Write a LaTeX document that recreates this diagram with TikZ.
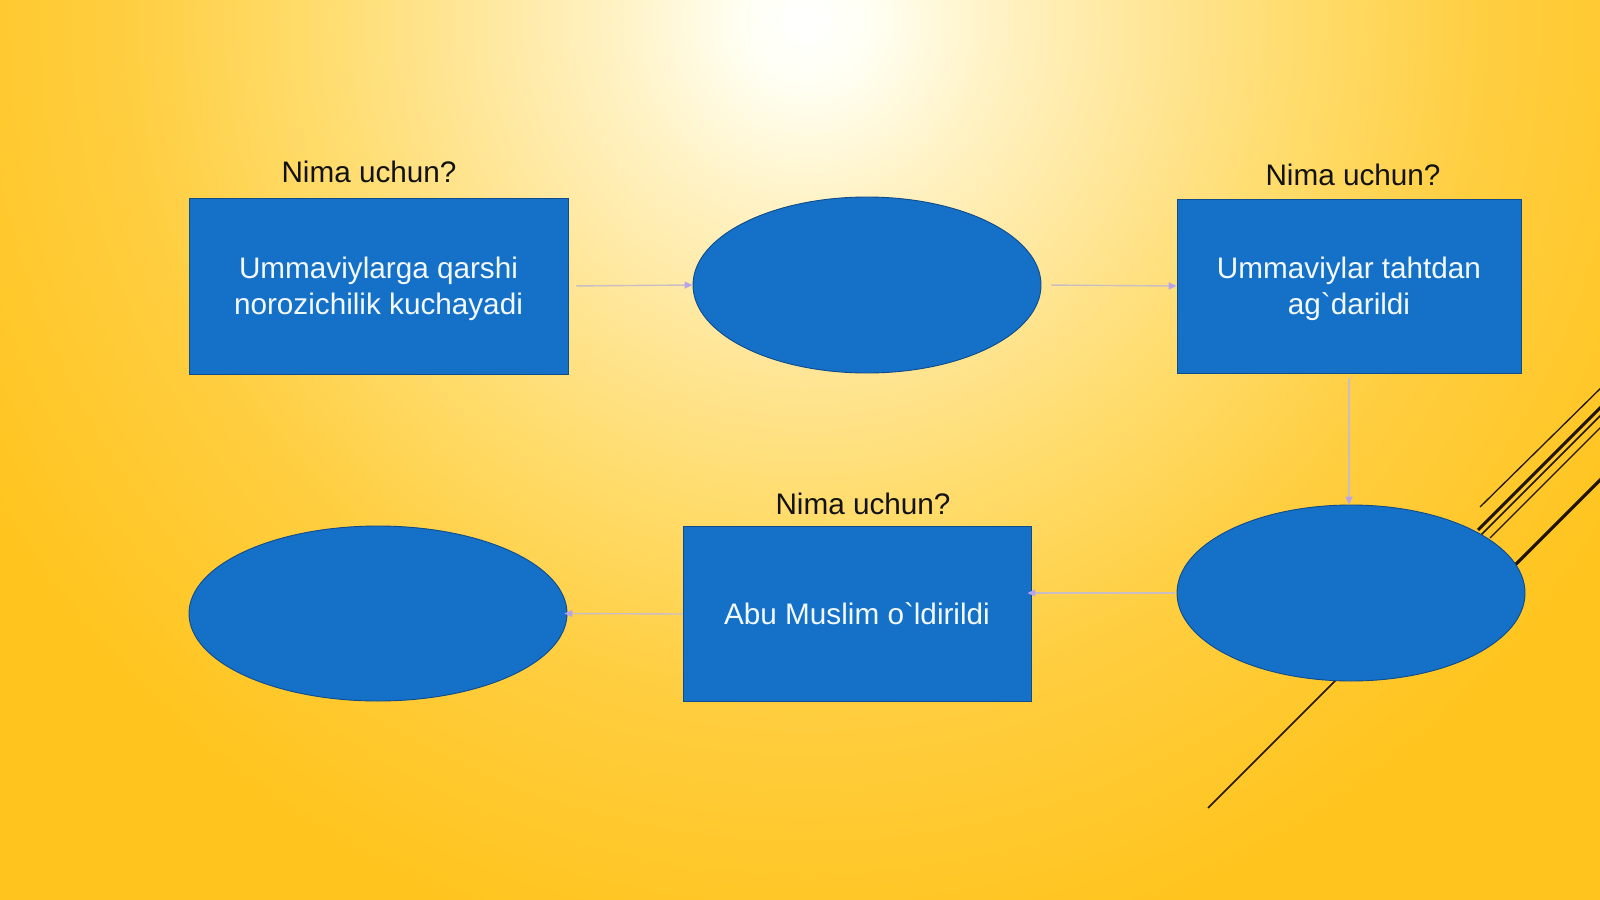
\documentclass[tikz,border=0pt]{standalone}
\usepackage{fontspec}
\setmainfont{Liberation Sans}[Ligatures=TeXOff]
\usetikzlibrary{shapes.geometric,arrows.meta}
\definecolor{bgA}{HTML}{FFFFF4}
\definecolor{bgB}{HTML}{FFF2C4}
\definecolor{bgC}{HTML}{FFE698}
\definecolor{bgD}{HTML}{FFDC6C}
\definecolor{bgE}{HTML}{FFCE40}
\definecolor{bgF}{HTML}{FFC41E}
\definecolor{boxblue}{HTML}{1570C8}
\definecolor{boxedge}{HTML}{0F4C8C}
\definecolor{boxtext}{HTML}{F2F9FF}
\definecolor{connc}{HTML}{C8BEC4}
\definecolor{tipc}{HTML}{B8A4E8}
\definecolor{decoc}{HTML}{1E1408}
\pgfdeclareradialshading{bgshade}{\pgfpoint{0bp}{0bp}}{color(0bp)=(white); color(1.07bp)=(bgA); color(3.39bp)=(bgB); color(6.11bp)=(bgC); color(8.82bp)=(bgD); color(12.21bp)=(bgE); color(16.96bp)=(bgF); color(50bp)=(bgF)}
\begin{document}
\begin{tikzpicture}[x=1pt,y=-1pt,
  blueshape/.style={fill=boxblue, draw=boxedge, line width=0.9pt, inner sep=0pt},
  rbox/.style={blueshape, rectangle, align=center, text=boxtext,
    font=\fontsize{29.7}{36}\selectfont, text depth=0pt},
  oval/.style={blueshape, ellipse},
  qlabel/.style={anchor=base, text=black!93, font=\fontsize{29.7}{36}\selectfont, inner sep=0pt},
  conn/.style={draw=connc, line width=1.4pt, -{Triangle[length=8pt,width=7pt,color=tipc]}},
  deco/.style={draw=decoc, line cap=butt}
]
\useasboundingbox (0,0) rectangle (1600,899);
\clip (0,0) rectangle (1600,899);
% background
\fill[bgF] (0,0) rectangle (1600,899);
\shade[shading=bgshade] (806,20) circle (1400);
% decorative lines of the theme
\draw[deco, line width=1.3pt] (1480,507) -- (1610,379);
\draw[deco, line width=3pt] (1478,530) -- (1610,398);
\draw[deco, line width=1.6pt] (1208,808) -- (1610,406);
\draw[deco, line width=1.2pt] (1490,538) -- (1610,418);
\draw[deco, line width=3.2pt] (1505,575) -- (1610,470);
% nodes
\node[rbox, minimum width=379pt, minimum height=176pt] (b1) at (378.5,286) {Ummaviylarga qarshi\\norozichilik kuchayadi};
\node[oval, minimum width=348pt, minimum height=176pt] (e1) at (867,285) {};
\node[rbox, minimum width=344pt, minimum height=174pt] (b2) at (1349,286) {Ummaviylar tahtdan\\ag`darildi};
\node[oval, minimum width=348pt, minimum height=176pt] (e2) at (1351,593) {};
\node[rbox, minimum width=348pt, minimum height=175pt] (b3) at (857,614) {Abu Muslim o`ldirildi};
\node[oval, minimum width=378pt, minimum height=175pt] (e3) at (378,613.5) {};
% labels
\node[qlabel] (l1) at (369,182) {Nima uchun?};
\node[qlabel] (l2) at (1353,185) {Nima uchun?};
\node[qlabel] (l3) at (863,514) {Nima uchun?};
% connectors
\draw[conn, shorten <=8pt] (b1.east) -- (e1.west);
\draw[conn, shorten <=10pt] (e1.east) -- (b2.west);
\draw[conn, shorten <=5pt] (b2.south) -- (b2.south |- e2.north);
\draw[conn, shorten <=2pt, shorten >=-4pt] (e2.west) -- (e2.west -| b3.east);
\draw[conn, shorten >=-3pt] (b3.west) -- (e3.east);
\end{tikzpicture}
\end{document}
